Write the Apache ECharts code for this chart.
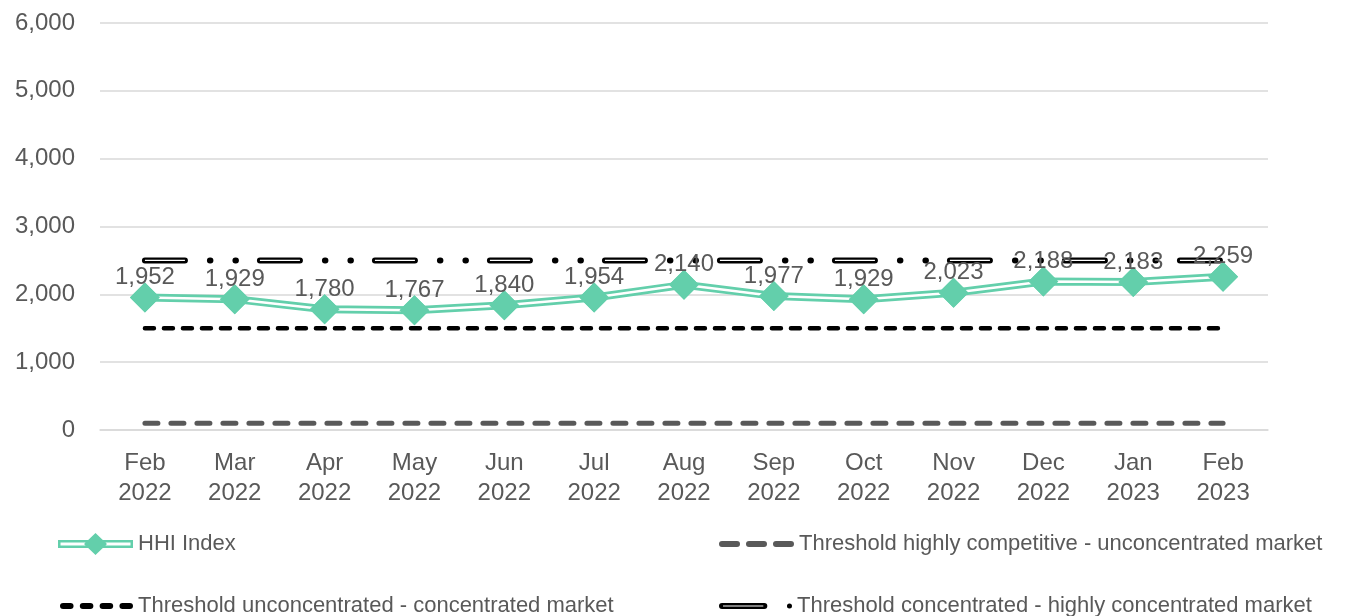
<!DOCTYPE html>
<html>
<head>
<meta charset="utf-8">
<script src="https://cdn.jsdelivr.net/npm/echarts@6/dist/echarts.min.js"></script>
<style>
  html, body { margin: 0; padding: 0; background: #fff; }
  #chart { width: 1347px; height: 616px; }
</style>
</head>
<body>
<div id="chart"></div>
<script>
const months = ['Feb\n2022', 'Mar\n2022', 'Apr\n2022', 'May\n2022', 'Jun\n2022', 'Jul\n2022', 'Aug\n2022',
  'Sep\n2022', 'Oct\n2022', 'Nov\n2022', 'Dec\n2022', 'Jan\n2023', 'Feb\n2023'];
const hhiIndex = [1952, 1929, 1780, 1767, 1840, 1954, 2140, 1977, 1929, 2023, 2188, 2183, 2259];
const thresholdCompetitive = [100, 100, 100, 100, 100, 100, 100, 100, 100, 100, 100, 100, 100];
const thresholdUnconcentrated = [1500, 1500, 1500, 1500, 1500, 1500, 1500, 1500, 1500, 1500, 1500, 1500, 1500];
const thresholdConcentrated = [2500, 2500, 2500, 2500, 2500, 2500, 2500, 2500, 2500, 2500, 2500, 2500, 2500];
const yTicks = [0, 1000, 2000, 3000, 4000, 5000, 6000];

const teal = '#63cfab';
const grey = '#595959';
const font = 'Liberation Sans, Arial, sans-serif';
const fmt = v => Number(v).toLocaleString('en-US');

// legend icons, drawn to the same size as itemWidth x itemHeight
const iconHHI = 'path://M0 5 H75 V7.5 H0 Z M0 10.5 H75 V13 H0 Z M0 5 H2.5 V13 H0 Z M72.5 5 H75 V13 H72.5 Z'
  + ' M37.5 -2 L49 9 L37.5 20 L26 9 Z';
const iconCompetitive = 'path://M3 0 H18 A3 3 0 0 1 18 6 H3 A3 3 0 0 1 3 0 Z'
  + ' M30 0 H45 A3 3 0 0 1 45 6 H30 A3 3 0 0 1 30 0 Z'
  + ' M57 0 H72 A3 3 0 0 1 72 6 H57 A3 3 0 0 1 57 0 Z';
const iconUnconcentrated = 'path://M3 0 H10 A3 3 0 0 1 10 6 H3 A3 3 0 0 1 3 0 Z'
  + ' M22 0 H29 A3 3 0 0 1 29 6 H22 A3 3 0 0 1 22 0 Z'
  + ' M41 0 H48 A3 3 0 0 1 48 6 H41 A3 3 0 0 1 41 0 Z'
  + ' M60 0 H67 A3 3 0 0 1 67 6 H60 A3 3 0 0 1 60 0 Z';
const iconConcentrated = 'path://M3 0 H45 A3 3 0 0 1 45 6 H3 A3 3 0 0 1 3 0 Z M4 2.4 V3.6 H44 V2.4 Z'
  + ' M67.5 3 A2.5 2.5 0 1 1 72.5 3 A2.5 2.5 0 1 1 67.5 3 Z';

const legendText = { color: grey, fontSize: 22, fontFamily: font };
const legendCommon = { textStyle: legendText, selectedMode: false, symbolKeepAspect: false, itemStyle: { borderWidth: 0 } };

const option = {
  animation: false,
  backgroundColor: '#fff',
  grid: { left: 100, right: 79, top: 23, bottom: 186 },
  legend: [
    { ...legendCommon, left: 53, top: 528, itemWidth: 75, itemHeight: 22,
      data: [{ name: 'HHI Index', icon: iconHHI }] },
    { ...legendCommon, left: 714, top: 528, itemWidth: 75, itemHeight: 6,
      data: [{ name: 'Threshold highly competitive - unconcentrated market', icon: iconCompetitive }] },
    { ...legendCommon, left: 55, top: 590, itemWidth: 73, itemHeight: 6,
      data: [{ name: 'Threshold unconcentrated - concentrated market', icon: iconUnconcentrated }] },
    { ...legendCommon, left: 714, top: 590, itemWidth: 73, itemHeight: 6,
      data: [{ name: 'Threshold concentrated - highly concentrated market', icon: iconConcentrated }] },
  ],
  xAxis: {
    type: 'category',
    data: months,
    boundaryGap: true,
    axisLine: { lineStyle: { color: '#d9d9d9', width: 1.5 } },
    axisTick: { show: false },
    axisLabel: { color: grey, fontSize: 24, fontFamily: font, lineHeight: 30, margin: 18, interval: 0 },
  },
  yAxis: {
    type: 'value',
    min: yTicks[0],
    max: yTicks[yTicks.length - 1],
    interval: 1000,
    axisLine: { show: false },
    axisTick: { show: false },
    axisLabel: { color: grey, fontSize: 24, fontFamily: font, margin: 25, formatter: fmt },
    splitLine: { lineStyle: { color: '#d9d9d9', width: 1.5 } },
  },
  series: [
    {
      name: 'Threshold highly competitive - unconcentrated market',
      type: 'line',
      data: thresholdCompetitive,
      symbol: 'none',
      itemStyle: { color: grey },
      lineStyle: { color: grey, width: 5, type: [13, 13], cap: 'round' },
      z: 2,
    },
    {
      name: 'Threshold unconcentrated - concentrated market',
      type: 'line',
      data: thresholdUnconcentrated,
      symbol: 'none',
      itemStyle: { color: '#000' },
      lineStyle: { color: '#000', width: 4.5, type: [9, 10], cap: 'round' },
      z: 2,
    },
    {
      name: 'Threshold concentrated - highly concentrated market',
      type: 'line',
      data: thresholdConcentrated,
      symbol: 'none',
      itemStyle: { color: '#000' },
      lineStyle: { color: '#000', width: 6, type: [40, 25, 0.5, 25, 0.5, 24], cap: 'round' },
      z: 2,
    },
    {
      name: 'concentratedInner',
      type: 'line',
      data: thresholdConcentrated,
      symbol: 'none',
      silent: true,
      lineStyle: { color: '#fff', width: 1.2, type: [40, 75], cap: 'butt' },
      z: 3,
    },
    {
      name: 'HHI Index',
      type: 'line',
      data: hhiIndex,
      symbol: 'diamond',
      symbolSize: 30,
      itemStyle: { color: teal },
      lineStyle: { color: teal, width: 8 },
      z: 4,
    },
    {
      name: 'hhiInner',
      type: 'line',
      data: hhiIndex,
      symbol: 'none',
      silent: true,
      lineStyle: { color: '#fff', width: 2.5 },
      z: 5,
    },
    {
      name: 'hhiPoints',
      type: 'line',
      data: hhiIndex,
      symbol: 'diamond',
      symbolSize: 30,
      itemStyle: { color: teal },
      lineStyle: { opacity: 0 },
      label: {
        show: true,
        position: 'top',
        distance: -7,
        color: grey,
        fontSize: 24,
        fontFamily: font,
        formatter: p => fmt(p.value),
      },
      z: 6,
    },
  ],
};

const chart = echarts.init(document.getElementById('chart'));
chart.setOption(option);
</script>
</body>
</html>
